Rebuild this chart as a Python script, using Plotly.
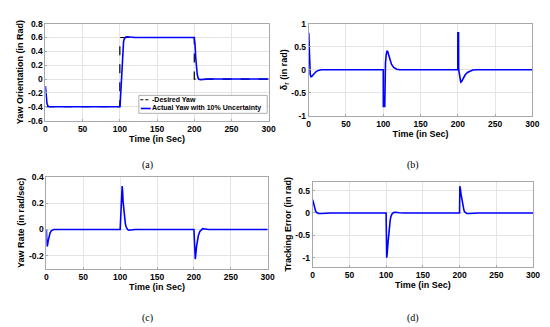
import plotly.graph_objects as go

# ---------------- data ----------------
x_ticks = [0, 50, 100, 150, 200, 250, 300]
x_ticktext = ["0", "50", "100", "150", "200", "250", "300"]

# (a) yaw orientation
t_desired = [0, 100, 100, 200, 200, 300]
yaw_desired = [-0.4, -0.4, 0.6, 0.6, 0.0, 0.0]

t_actual = [0, 0.5, 1, 1.5, 2, 3, 4, 6, 100, 100.5, 101, 102, 103, 104, 105, 106, 107, 108, 110, 114, 120,
            200, 200.5, 201, 202, 203, 204, 205, 206, 208, 212, 220, 300]
yaw_actual = [-0.10, -0.19, -0.26, -0.31, -0.345, -0.38, -0.395, -0.40, -0.40, -0.35, -0.25, 0.05, 0.30, 0.46,
              0.54, 0.58, 0.60, 0.607, 0.61, 0.605, 0.60,
              0.60, 0.57, 0.50, 0.30, 0.15, 0.07, 0.02, 0.0, -0.008, -0.005, 0.0, 0.0]
a_yticks = [-0.6, -0.4, -0.2, 0, 0.2, 0.4, 0.6, 0.8]
a_yticktext = ["-0.6", "-0.4", "-0.2", "0", "0.2", "0.4", "0.6", "0.8"]

# (b) rudder angle delta_r
t_rudder = [0, 0.3, 1, 2, 3, 4, 6, 8, 10, 13, 17,
            100, 100.1, 102, 102.2, 103, 104, 105, 106, 107, 109, 111, 114, 118, 122,
            200, 200.1, 201, 201.2, 202, 203, 204, 205, 206, 208, 210, 213, 216, 220, 225, 300]
rudder = [0.8, 0.6, 0.1, -0.1, -0.155, -0.15, -0.11, -0.07, -0.04, -0.015, 0.0,
          0.0, -0.8, -0.8, 0.0, 0.15, 0.33, 0.41, 0.39, 0.33, 0.20, 0.12, 0.05, 0.01, 0.0,
          0.0, 0.8, 0.8, 0.0, -0.12, -0.23, -0.27, -0.26, -0.23, -0.16, -0.11, -0.06, -0.03, -0.005, 0.0, 0.0]
b_yticks = [-1, -0.5, 0, 0.5, 1]
b_yticktext = ["-1", "-0.5", "0", "0.5", "1"]

# (c) yaw rate
t_rate = [0, 0.8, 1.5, 2.5, 3.5, 5, 7, 10,
          100, 101, 102, 102.7, 103.3, 104, 105, 106, 107, 108, 110, 112, 115, 120,
          200, 200.8, 201.8, 202.5, 203.5, 204.5, 206, 208, 210, 212, 215, 220, 300]
yaw_rate = [0.0, -0.13, -0.12, -0.085, -0.055, -0.025, -0.008, 0.0,
            0.0, 0.10, 0.25, 0.33, 0.29, 0.21, 0.14, 0.085, 0.045, 0.02, 0.0, -0.006, -0.004, 0.0,
            0.0, -0.10, -0.225, -0.19, -0.13, -0.09, -0.045, -0.015, 0.0, 0.006, 0.004, 0.0, 0.0]
c_yticks = [-0.2, 0, 0.2, 0.4]
c_yticktext = ["-0.2", "0", "0.2", "0.4"]

# (d) tracking error
t_err = [0, 1, 2, 3, 4, 5, 6, 8, 12, 18, 25,
         100, 100.8, 101.5, 102.5, 103.5, 104.5, 105.5, 106.5, 108, 110, 113, 118, 125,
         200, 200.4, 201, 202, 203, 204, 205, 206, 207, 208, 210, 214, 220, 225, 300]
track_err = [0.30, 0.22, 0.15, 0.09, 0.045, 0.015, 0.0, -0.01, -0.01, -0.005, 0.0,
             0.0, -1.0, -0.9, -0.68, -0.47, -0.30, -0.17, -0.08, -0.02, 0.01, 0.015, 0.005, 0.0,
             0.0, 0.60, 0.55, 0.42, 0.30, 0.20, 0.12, 0.06, 0.025, 0.005, -0.012, -0.012, -0.004, 0.0, 0.0]
d_yticks = [-1, -0.5, 0, 0.5]
d_yticktext = ["-1", "-0.5", "0", "0.5"]

# ---------------- figure ----------------
BLUE = "#0000ff"
LW = 1.6
fig = go.Figure()

fig.add_trace(go.Scatter(x=t_desired, y=yaw_desired, mode="lines", xaxis="x", yaxis="y",
                         line=dict(color="black", width=1.2, dash="dash"), showlegend=False))
fig.add_trace(go.Scatter(x=t_actual, y=yaw_actual, mode="lines", xaxis="x", yaxis="y",
                         line=dict(color=BLUE, width=LW), showlegend=False))
fig.add_trace(go.Scatter(x=t_rudder, y=rudder, mode="lines", xaxis="x2", yaxis="y2",
                         line=dict(color=BLUE, width=LW), showlegend=False))
fig.add_trace(go.Scatter(x=t_rate, y=yaw_rate, mode="lines", xaxis="x3", yaxis="y3",
                         line=dict(color=BLUE, width=LW), showlegend=False))
fig.add_trace(go.Scatter(x=t_err, y=track_err, mode="lines", xaxis="x4", yaxis="y4",
                         line=dict(color=BLUE, width=LW), showlegend=False))

W, H = 550, 327
FONT = "Liberation Sans, Arial, sans-serif"
tickfont = dict(family=FONT, size=8.5, color="black", weight="bold")
titlefont = dict(family=FONT, size=9, color="black", weight="bold")


def xax(domain, anchor):
    return dict(domain=domain, anchor=anchor, range=[0, 300], tickvals=x_ticks, ticktext=x_ticktext,
                showgrid=True, gridcolor="#e4e4e4", gridwidth=1, zeroline=False,
                showline=True, linecolor="#a8a8a8", linewidth=1, mirror=True,
                ticks="inside", ticklen=2, tickcolor="#a8a8a8", tickfont=tickfont,
                title=dict(text="Time (in Sec)", font=titlefont, standoff=1))


def yax(domain, anchor, rng, tv, tt, title):
    return dict(domain=domain, anchor=anchor, range=rng, tickvals=tv, ticktext=tt,
                showgrid=True, gridcolor="#e4e4e4", gridwidth=1, zeroline=False,
                showline=True, linecolor="#a8a8a8", linewidth=1, mirror=True,
                ticks="inside", ticklen=2, tickcolor="#a8a8a8", tickfont=tickfont,
                title=dict(text=title, font=titlefont, standoff=2))


def px_x(a, b):
    return [a / W, b / W]


def px_y(top, bottom):
    return [1 - bottom / H, 1 - top / H]


fig.update_layout(
    width=W, height=H, margin=dict(l=0, r=0, t=0, b=0),
    paper_bgcolor="white", plot_bgcolor="white", showlegend=False,
    font=dict(family=FONT, weight="bold", color="black"),
    xaxis=xax(px_x(36, 263), "y"),
    yaxis=yax(px_y(11, 111), "x", [-0.6, 0.8], a_yticks, a_yticktext, "Yaw Orientation (in Rad)"),
    xaxis2=xax(px_x(303.7, 531), "y2"),
    yaxis2=yax(px_y(11, 106), "x2", [-1, 1], b_yticks, b_yticktext, "δ<sub>r</sub> (in rad)"),
    xaxis3=xax(px_x(37, 262), "y3"),
    yaxis3=yax(px_y(169, 264), "x3", [-0.3, 0.4], c_yticks, c_yticktext, "Yaw Rate (in rad/sec)"),
    xaxis4=xax(px_x(307.7, 531.7), "y4"),
    yaxis4=yax(px_y(174, 261.7), "x4", [-1.2, 0.7], d_yticks, d_yticktext, "Tracking Error (in rad)"),
)

# captions
caps = [("(a)", 140, 157), ("(b)", 410, 157), ("(c)", 140, 315), ("(d)", 410, 315)]
for txt, cx, cy in caps:
    fig.add_annotation(text=txt, x=cx / W, y=1 - cy / H, xref="paper", yref="paper", showarrow=False,
                       xanchor="center", yanchor="middle",
                       font=dict(family="Liberation Serif, Times New Roman, serif", size=10, color="black",
                                 weight="normal"))

# legend for (a), drawn inside the axes box
lx0, lx1, ly0, ly1 = 131, 261.5, 85, 103.5
fig.add_shape(type="rect", xref="paper", yref="paper", x0=lx0 / W, x1=lx1 / W, y0=1 - ly1 / H, y1=1 - ly0 / H,
              line=dict(color="#9a9a9a", width=0.8), fillcolor="white")
fig.add_shape(type="line", xref="paper", yref="paper", x0=132.5 / W, x1=141.5 / W, y0=1 - 89.5 / H, y1=1 - 89.5 / H,
              line=dict(color="black", width=1.2, dash="3px,2px"))
fig.add_shape(type="line", xref="paper", yref="paper", x0=133 / W, x1=143 / W, y0=1 - 98.5 / H, y1=1 - 98.5 / H,
              line=dict(color=BLUE, width=LW))
fig.add_annotation(text="-Desired Yaw", x=142 / W, y=1 - 89.5 / H, xref="paper", yref="paper", showarrow=False,
                   xanchor="left", yanchor="middle", font=dict(family=FONT, size=7, color="black", weight="bold"))
fig.add_annotation(text="Actual Yaw with 10% Uncertainty", x=142.5 / W, y=1 - 98.5 / H, xref="paper", yref="paper",
                   showarrow=False, xanchor="left", yanchor="middle",
                   font=dict(family=FONT, size=7, color="black", weight="bold"))

fig.write_html("out.html")
